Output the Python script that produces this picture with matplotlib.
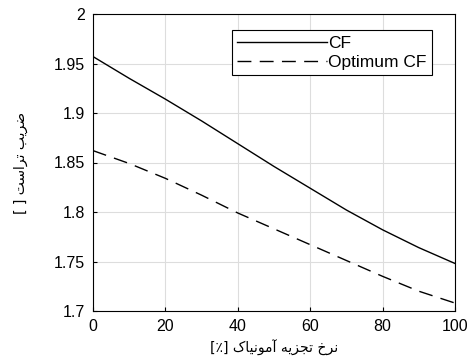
import matplotlib
matplotlib.use("Agg")
import matplotlib.pyplot as plt
import numpy as np

x = [0, 10, 20, 30, 40, 50, 60, 70, 80, 90, 100]
cf = [1.957, 1.935, 1.914, 1.892, 1.869, 1.846, 1.824, 1.802, 1.782, 1.764, 1.748]
opt_cf = [1.862, 1.849, 1.834, 1.817, 1.799, 1.783, 1.767, 1.751, 1.735, 1.720, 1.708]
xticks = [0, 20, 40, 60, 80, 100]
yticks = [1.7, 1.75, 1.8, 1.85, 1.9, 1.95, 2.0]
ytick_labels = ["1.7", "1.75", "1.8", "1.85", "1.9", "1.95", "2"]

# Persian labels in presentation forms, visual (LTR) order
xlabel = "[\u066A] \uFB8E\uFE8E\uFBFF\uFEE7\uFEEE\uFEE3\uFE81 \uFEEA\uFBFE\uFEB0\uFEA0\uFE97 \uFEA5\uFEAE\uFEE7"
ylabel = "[ ] \uFE96\uFEB3\uFE8D\uFEAE\uFE97 \uFE90\uFBFE\uFEAE\uFEBF"

plt.rcParams['font.family'] = ['Liberation Sans', 'DejaVu Sans']

fig = plt.figure(figsize=(4.73, 3.63), dpi=100)
ax = fig.add_axes([93/473, 1-311/363, (455-93)/473, (311-14)/363])

ax.plot(x, cf, color='black', lw=1.0, label='CF')
ax.plot(x, opt_cf, color='black', lw=1.0, dashes=(10, 6), label='Optimum CF')

ax.set_xlim(0, 100)
ax.set_ylim(1.7, 2.0)
ax.set_xticks(xticks)
ax.set_yticks(yticks)
ax.set_yticklabels(ytick_labels)
ax.grid(True, color='#dddddd', lw=0.8)
ax.tick_params(direction='in', length=3, labelsize=11.5, colors='black', pad=6)
for s in ax.spines.values():
    s.set_color('black')
    s.set_linewidth(0.8)

ax.set_xlabel(xlabel, family=['DejaVu Sans'], fontsize=10, labelpad=4)
ax.set_ylabel(ylabel, family=['DejaVu Sans'], fontsize=10, labelpad=18)

leg = ax.legend(loc='upper right', bbox_to_anchor=(0.936, 0.945), fancybox=False,
                edgecolor='black', framealpha=1, fontsize=12.5, handlelength=5.2,
                handletextpad=0.05, borderpad=0.3, labelspacing=0.25, borderaxespad=0)
leg.get_frame().set_linewidth(0.8)

fig.savefig("out.png", dpi=100)
